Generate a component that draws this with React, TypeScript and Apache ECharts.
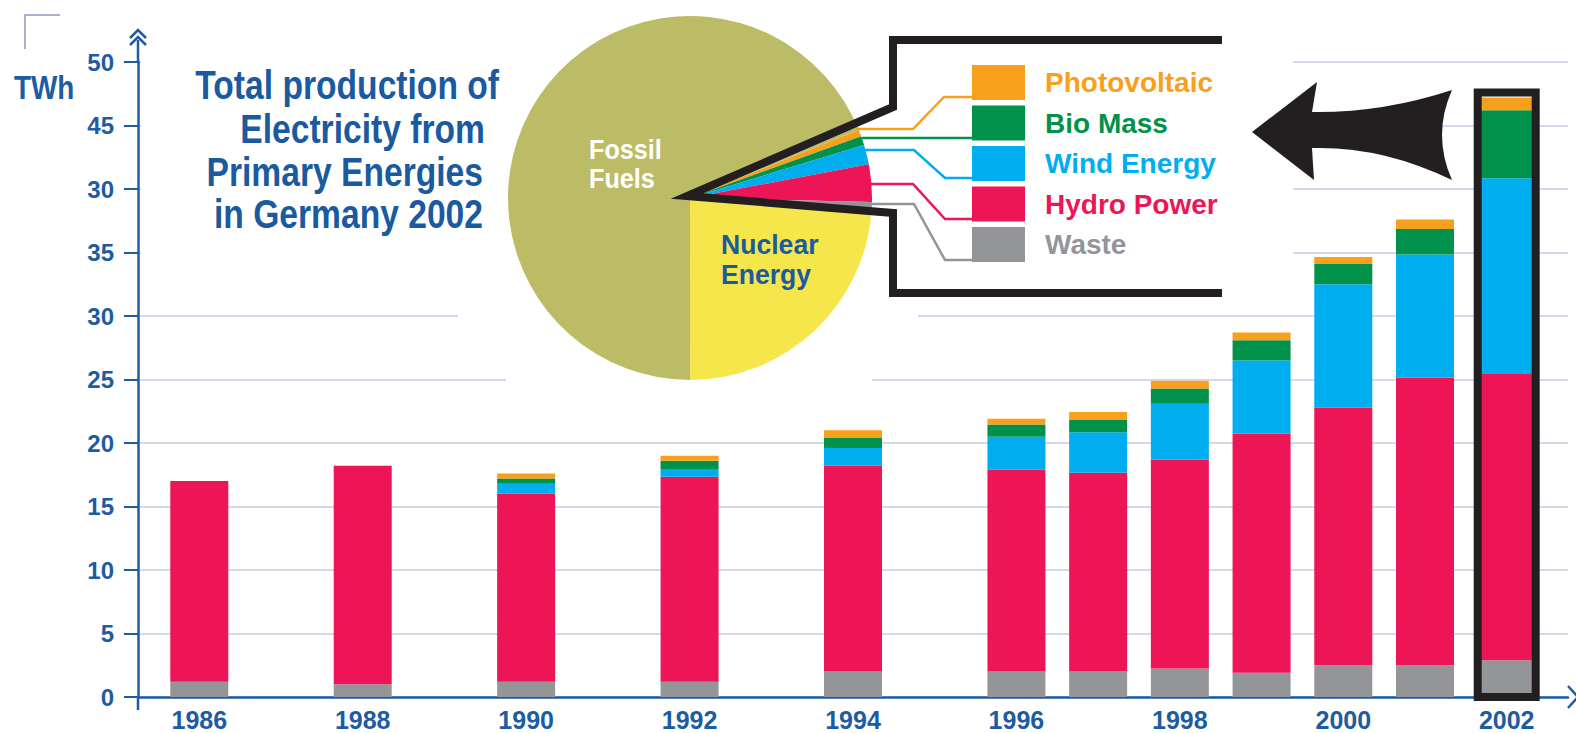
import React, { useEffect, useRef } from 'react';
import * as echarts from 'echarts';

// ---------------- data ----------------
const YEARS = [1986, 1988, 1990, 1992, 1994, 1996, 1997, 1998, 1999, 2000, 2001, 2002];
const WASTE = [1.2, 1.0, 1.2, 1.2, 2.0, 2.0, 2.0, 2.25, 1.9, 2.5, 2.5, 2.9];
const HYDRO = [15.8, 17.2, 14.8, 16.15, 16.2, 15.9, 15.65, 16.45, 18.85, 20.3, 22.65, 22.6];
const WIND = [0, 0, 0.8, 0.6, 1.4, 2.6, 3.2, 4.4, 5.75, 9.7, 9.7, 15.35];
const BIOMASS = [0, 0, 0.4, 0.65, 0.8, 0.95, 1.0, 1.2, 1.6, 1.6, 2.0, 5.35];
const PHOTOVOLTAIC = [0, 0, 0.4, 0.4, 0.6, 0.45, 0.6, 0.6, 0.6, 0.55, 0.75, 1.0];

const STACK_NAMES = ['Waste', 'Hydro Power', 'Wind Energy', 'Bio Mass', 'Photovoltaic'];
const STACK_VALUES = [WASTE, HYDRO, WIND, BIOMASS, PHOTOVOLTAIC];
const STACK_COLORS = ['#939598', '#ed1556', '#00adee', '#00914b', '#f8a01b'];

const LEGEND_NAMES = ['Photovoltaic', 'Bio Mass', 'Wind Energy', 'Hydro Power', 'Waste'];
const LEGEND_COLORS = ['#f8a01b', '#00914b', '#00adee', '#ed1556', '#939598'];

// pie: share of electricity production in Germany 2002 (%), as drawn
const PIE_NAMES = ['Photovoltaic', 'Bio Mass', 'Wind Energy', 'Hydro Power', 'Waste', 'Nuclear Energy', 'Fossil Fuels'];
const PIE_SHARES = [0.6, 0.8, 1.75, 3.3, 0.55, 24.1, 68.9];
const PIE_COLORS = ['#f8a01b', '#00914b', '#00adee', '#ed1556', '#939598', '#f5e64c', '#bdbc66'];

const X_LABEL_YEARS = [1986, 1988, 1990, 1992, 1994, 1996, 1998, 2000, 2002];
const Y_TICK_LABELS = ['0', '5', '10', '15', '20', '25', '30', '35', '30', '45', '50'];
const HIGHLIGHT_YEAR = 2002;

const TITLE_LINES = ['Total production of', 'Electricity from', 'Primary Energies', 'in Germany 2002'];

// ---------------- styles ----------------
const SANS = '"Liberation Sans", Arial, sans-serif';
const BLUE = '#1d5ca3';
const TITLE_BLUE = '#1a5aa0';
const BLACK = '#231f20';
const GRID_COLOR = '#d4d9ef';
const BAR_WIDTH = 58;

const ARROW_PATH =
  'M1252,132 L1317,82 L1312,112 Q1382,113 1452,90 Q1432,135 1452,180 Q1382,146 1312,148 L1314,180 Z';
echarts.graphic.registerShape('bigArrow', echarts.graphic.extendPath(ARROW_PATH, {}));

function buildOption() {
  const hiIdx = YEARS.indexOf(HIGHLIGHT_YEAR);
  const hiTotal = STACK_VALUES.reduce((s, arr) => s + arr[hiIdx], 0);

  // value first, year second: the value dimension is the one that gets stacked
  const barSeries: any[] = STACK_NAMES.map((name, k) => ({
    type: 'bar',
    name,
    stack: 'total',
    barWidth: BAR_WIDTH,
    silent: true,
    encode: { x: 1, y: 0 },
    itemStyle: { color: STACK_COLORS[k] },
    data: YEARS.map((y, i) => [STACK_VALUES[k][i], y]),
    z: 2,
  }));

  // black frame around the highlighted year's bar
  const highlightSeries = {
    type: 'custom',
    name: 'highlight',
    silent: true,
    z: 3,
    encode: { x: 1, y: 0 },
    data: [[hiTotal + 0.4, HIGHLIGHT_YEAR]],
    renderItem: (params: any, api: any) => {
      const top = api.coord([api.value(1), api.value(0)]);
      const bottom = api.coord([api.value(1), 0]);
      return {
        type: 'rect',
        shape: { x: top[0] - BAR_WIDTH / 2, y: top[1], width: BAR_WIDTH, height: bottom[1] - top[1] },
        style: { fill: 'none', stroke: BLACK, lineWidth: 8 },
      };
    },
  };

  const pieSeries = {
    type: 'pie',
    center: [690, 198],
    radius: 182,
    startAngle: 22,
    clockwise: true,
    silent: true,
    label: { show: false },
    labelLine: { show: false },
    emphasis: { disabled: true },
    data: PIE_NAMES.map((n, i) => ({ name: n, value: PIE_SHARES[i], itemStyle: { color: PIE_COLORS[i] } })),
    z: 3,
  };

  const txt = (text: string, x: number, y: number, size: number, color: string, align = 'left', sx = 0.82) => ({
    type: 'text',
    z: 10,
    silent: true,
    x,
    y,
    scaleX: sx,
    style: {
      text,
      x: 0,
      y: 0,
      fill: color,
      align,
      verticalAlign: 'middle',
      fontFamily: SANS,
      fontWeight: 'bold',
      fontSize: size,
    },
  });

  const line = (points: number[][], color: string, width: number, z = 10) => ({
    type: 'polyline',
    z,
    silent: true,
    shape: { points },
    style: { stroke: color, lineWidth: width, fill: null, lineJoin: 'miter', miterLimit: 12 },
  });

  const graphic: any[] = [
    // white masks hiding grid lines behind title / pie / legend box
    { type: 'rect', z: 1, silent: true, shape: { x: 141, y: 0, width: 1152, height: 288 }, style: { fill: '#fff' } },
    { type: 'rect', z: 1, silent: true, shape: { x: 458, y: 300, width: 460, height: 30 }, style: { fill: '#fff' } },
    { type: 'rect', z: 1, silent: true, shape: { x: 506, y: 366, width: 366, height: 26 }, style: { fill: '#fff' } },
    // corner mark
    line([[25, 49], [25, 15], [60, 15]], '#a8b0d2', 2),
    // y axis extension with double chevron
    line([[138, 63], [138, 40]], BLUE, 2.5),
    line([[130, 38], [138, 30], [146, 38]], BLUE, 2.5),
    line([[130, 45], [138, 37], [146, 45]], BLUE, 2.5),
    line([[138, 697], [138, 710]], BLUE, 2.5),
    // x axis end chevron
    line([[1568, 686], [1578, 697], [1568, 708]], BLUE, 2.5),
    // unit
    txt('TWh', 14, 88, 34, BLUE),
    // title
    txt(TITLE_LINES[0], 499, 85, 41, TITLE_BLUE, 'right'),
    txt(TITLE_LINES[1], 485, 129, 41, TITLE_BLUE, 'right'),
    txt(TITLE_LINES[2], 483, 172, 41, TITLE_BLUE, 'right'),
    txt(TITLE_LINES[3], 483, 214, 41, TITLE_BLUE, 'right'),
    // pie labels
    txt('Fossil', 589, 150, 28, '#ffffff', 'left', 0.9),
    txt('Fuels', 589, 179, 28, '#ffffff', 'left', 0.9),
    txt('Nuclear', 721, 244, 28, TITLE_BLUE, 'left', 0.95),
    txt('Energy', 721, 274, 28, TITLE_BLUE, 'left', 0.95),
    // connectors from slices to legend squares
    line([[856, 129], [913, 129], [944, 97], [972, 97]], LEGEND_COLORS[0], 2.5),
    line([[862, 138], [972, 138]], LEGEND_COLORS[1], 2.5),
    line([[864, 150], [914, 150], [945, 178], [972, 178]], LEGEND_COLORS[2], 2.5),
    line([[868, 184], [913, 184], [945, 219], [972, 219]], LEGEND_COLORS[3], 2.5),
    line([[869, 204], [914, 204], [945, 260], [972, 260]], LEGEND_COLORS[4], 2.5),
    // callout outline
    line([[1222, 40], [893, 40], [893, 107], [687, 196], [893, 213], [893, 293], [1222, 293]], BLACK, 8, 11),
    // big arrow
    { type: 'bigArrow', x: 0, y: 0, z: 10, silent: true, style: { fill: BLACK } },
  ];

  return {
    animation: false,
    backgroundColor: '#ffffff',
    grid: { left: 138, right: 8, top: 62, bottom: 36, containLabel: false },
    xAxis: {
      type: 'value',
      min: 1985.25,
      max: 2002.75,
      axisLine: { show: true, lineStyle: { color: BLUE, width: 2.5 } },
      axisTick: { show: false },
      splitLine: { show: false },
      axisLabel: {
        customValues: X_LABEL_YEARS,
        formatter: (v: number) => String(v),
        color: BLUE,
        fontFamily: SANS,
        fontWeight: 'bold',
        fontSize: 25,
        margin: 10,
      },
    },
    yAxis: {
      type: 'value',
      min: 0,
      max: 50,
      interval: 5,
      axisLine: { show: true, lineStyle: { color: BLUE, width: 2.5 } },
      axisTick: { show: true, length: 14, lineStyle: { color: BLUE, width: 2 } },
      axisLabel: {
        formatter: (v: number) => Y_TICK_LABELS[Math.round(v / 5)] ?? '',
        color: BLUE,
        fontFamily: SANS,
        fontWeight: 'bold',
        fontSize: 24,
        margin: 24,
      },
      splitLine: { show: true, lineStyle: { color: GRID_COLOR, width: 2 } },
    },
    legend: {
      orient: 'vertical',
      left: 972,
      top: 65,
      padding: 0,
      itemWidth: 53,
      itemHeight: 35,
      itemGap: 5.5,
      icon: 'rect',
      selectedMode: false,
      data: LEGEND_NAMES.map((name, i) => ({ name, textStyle: { color: LEGEND_COLORS[i] } })),
      textStyle: { fontFamily: SANS, fontWeight: 'bold', fontSize: 28, padding: [0, 0, 0, 15] },
    },
    series: [...barSeries, highlightSeries, pieSeries],
    graphic,
  };
}

export default function App() {
  const ref = useRef<HTMLDivElement>(null);
  useEffect(() => {
    if (!ref.current) return;
    const chart = echarts.init(ref.current, undefined, { renderer: 'svg' });
    chart.setOption(buildOption() as any);
    return () => chart.dispose();
  }, []);
  return (
    <div
      ref={ref}
      style={{ position: 'fixed', left: 0, top: 0, width: 1576, height: 733, background: '#fff' }}
    />
  );
}
